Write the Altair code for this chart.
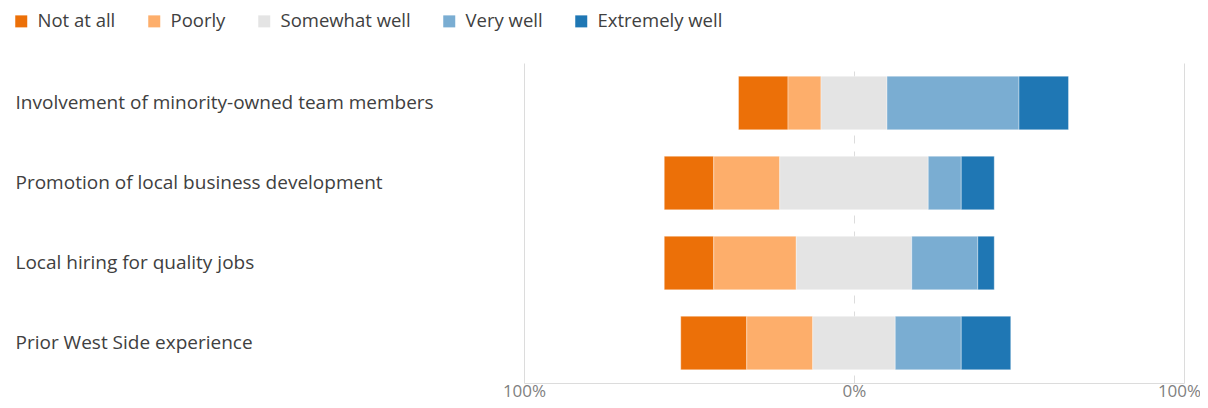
import altair as alt
import pandas as pd

questions = [
    "Involvement of minority-owned team members",
    "Promotion of local business development",
    "Local hiring for quality jobs",
    "Prior West Side experience",
]
categories = ["Not at all", "Poorly", "Somewhat well", "Very well", "Extremely well"]
colors = ["#ec7008", "#fdae6b", "#e4e4e4", "#7aadd2", "#1f77b4"]

not_at_all = [15, 15, 15, 20]
poorly = [10, 20, 25, 20]
somewhat_well = [20, 45, 35, 25]
very_well = [40, 10, 20, 20]
extremely_well = [15, 10, 5, 15]

series = [not_at_all, poorly, somewhat_well, very_well, extremely_well]

rows = []
for qi, q in enumerate(questions):
    start = -(not_at_all[qi] + poorly[qi] + somewhat_well[qi] / 2)
    for ci, cat in enumerate(categories):
        v = series[ci][qi]
        rows.append({"question": q, "category": cat, "value": v,
                     "start": start, "end": start + v, "order": ci})
        start += v
df = pd.DataFrame(rows)

FONT = "Open Sans"

bars = alt.Chart(df).mark_bar(stroke="#ffffff", strokeWidth=0.6, strokeOpacity=0.6).encode(
    x=alt.X("start:Q",
            scale=alt.Scale(domain=[-100, 100], nice=False, zero=False),
            axis=alt.Axis(values=[-100, 0, 100], labelExpr="abs(datum.value) + '%'",
                          title=None, ticks=False, domain=True, domainColor="#dcdcdc",
                          domainWidth=1, grid=True, gridColor="#dcdcdc", gridWidth=1,
                          gridDash=alt.condition("datum.value === 0", alt.value([8, 8]), alt.value([])),
                          labelFont=FONT, labelFontSize=17, labelColor="#7f7f7f",
                          labelOffset=alt.condition("datum.value === 100", alt.value(-5), alt.value(0)),
                          labelPadding=0, labelFlush=False)),
    x2="end:Q",
    y=alt.Y("question:N", sort=questions,
            scale=alt.Scale(paddingInner=0.33, paddingOuter=0.165),
            axis=alt.Axis(title=None, ticks=False, domain=False, grid=False,
                          labelAlign="left", labelPadding=509, labelLimit=500,
                          labelFont=FONT, labelFontSize=19, labelColor="#404040")),
    color=alt.Color("category:N",
                    scale=alt.Scale(domain=categories, range=colors),
                    legend=alt.Legend(title=None, orient="none", direction="horizontal",
                                      legendX=-512, legendY=-51, padding=0,
                                      symbolType="square", symbolSize=144, symbolStrokeWidth=0,
                                      symbolOpacity=1,
                                      labelFont=FONT, labelFontSize=18.5, labelColor="#404040",
                                      labelOffset=7, columnPadding=29)),
    order=alt.Order("order:Q"),
)

chart = bars.properties(
    width=660, height=320,
    autosize=alt.AutoSizeParams(type="none"),
    padding={"left": 516, "top": 55, "right": 16, "bottom": 17},
).configure(font=FONT).configure_view(stroke="transparent", strokeWidth=0)

chart.save("out.html", embed_options={"renderer": "svg", "actions": False})
